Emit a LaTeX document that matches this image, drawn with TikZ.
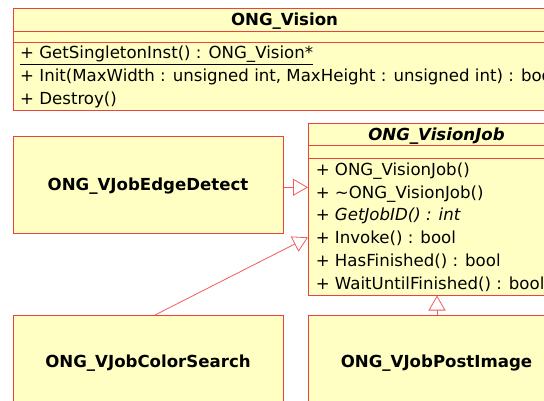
\documentclass[tikz,border=0pt]{standalone}
\usepackage{fontspec}
\setmainfont{DejaVu Sans}
\usetikzlibrary{arrows.meta}
\definecolor{umlline}{RGB}{238,64,60}
\definecolor{umlfill}{RGB}{255,255,196}
\tikzset{
  classbox/.style={draw=umlline, fill=umlfill, line width=1pt, inner sep=0pt, anchor=north west},
  sepline/.style={draw=umlline, line width=1pt},
  member/.style={anchor=base west, inner sep=0pt, font=\fontsize{16.6}{23}\selectfont},
  cname/.style={anchor=base, inner sep=0pt, font=\fontsize{16.6}{23}\selectfont\bfseries},
  gen/.style={draw=umlline!85, line width=0.8pt, -{Triangle[open, length=15pt, width=17pt]}}
}
\begin{document}
\begin{tikzpicture}[x=1pt, y=-1pt]
\useasboundingbox (0,0) rectangle (544,401);
\clip (0,0) rectangle (544,401);
\fill[white] (0,0) rectangle (544,401);

% ONG_Vision class
\node[classbox, minimum width=543pt, minimum height=102.5pt] (vision) at (13,8) {};
\draw[sepline] (13,31.7) -- (556,31.7);
\draw[sepline] (13,42.3) -- (556,42.3);
\node[cname] (visiontitle) at (284.5,25.9) {ONG\_Vision};
\node[member] (vm1) at (20,58.4) {\underline{+ GetSingletonInst() : ONG\_Vision*}};
\node[member] (vm2) at (20,81.6) {+ Init(MaxWidth : unsigned int, MaxHeight : unsigned int) : bool};
\node[member] (vm3) at (20,104.9) {+ Destroy()};

% ONG_VisionJob abstract class
\node[classbox, minimum width=257pt, minimum height=171pt] (job) at (308,123.5) {};
\draw[sepline] (308,146) -- (565,146);
\draw[sepline] (308,158.5) -- (565,158.5);
\node[cname, font=\fontsize{16.6}{23}\selectfont\bfseries\itshape] (jobtitle) at (436.5,141) {ONG\_VisionJob};
\node[member] (jm1) at (315.6,175.6) {+ ONG\_VisionJob()};
\node[member] (jm2) at (315.6,198.3) {+ \textasciitilde ONG\_VisionJob()};
\node[member] (jm3) at (315.6,221) {+ \textit{GetJobID() : int}};
\node[member] (jm4) at (315.6,243.7) {+ Invoke() : bool};
\node[member] (jm5) at (315.6,266.4) {+ HasFinished() : bool};
\node[member] (jm6) at (315.6,289.1) {+ WaitUntilFinished() : bool};

% Derived job classes
\node[classbox, minimum width=270pt, minimum height=96.5pt] (edge) at (13,136.5) {};
\node[cname] (edgetitle) at (148,191) {ONG\_VJobEdgeDetect};
\node[classbox, minimum width=270pt, minimum height=100pt] (color) at (13,315) {};
\node[cname] (colortitle) at (148,367) {ONG\_VJobColorSearch};
\node[classbox, minimum width=257pt, minimum height=100pt] (post) at (308,315) {};
\node[cname] (posttitle) at (436.5,367) {ONG\_VJobPostImage};

% Generalisation arrows
\draw[gen] (edge.east |- 0,187.3) -- (job.west |- 0,187.3);
\coordinate (colortop) at (155,315);
\draw[gen] (colortop) -- (job.west |- 0,237.3);
\draw[gen] (post.north) -- (job.south);
\end{tikzpicture}
\end{document}
